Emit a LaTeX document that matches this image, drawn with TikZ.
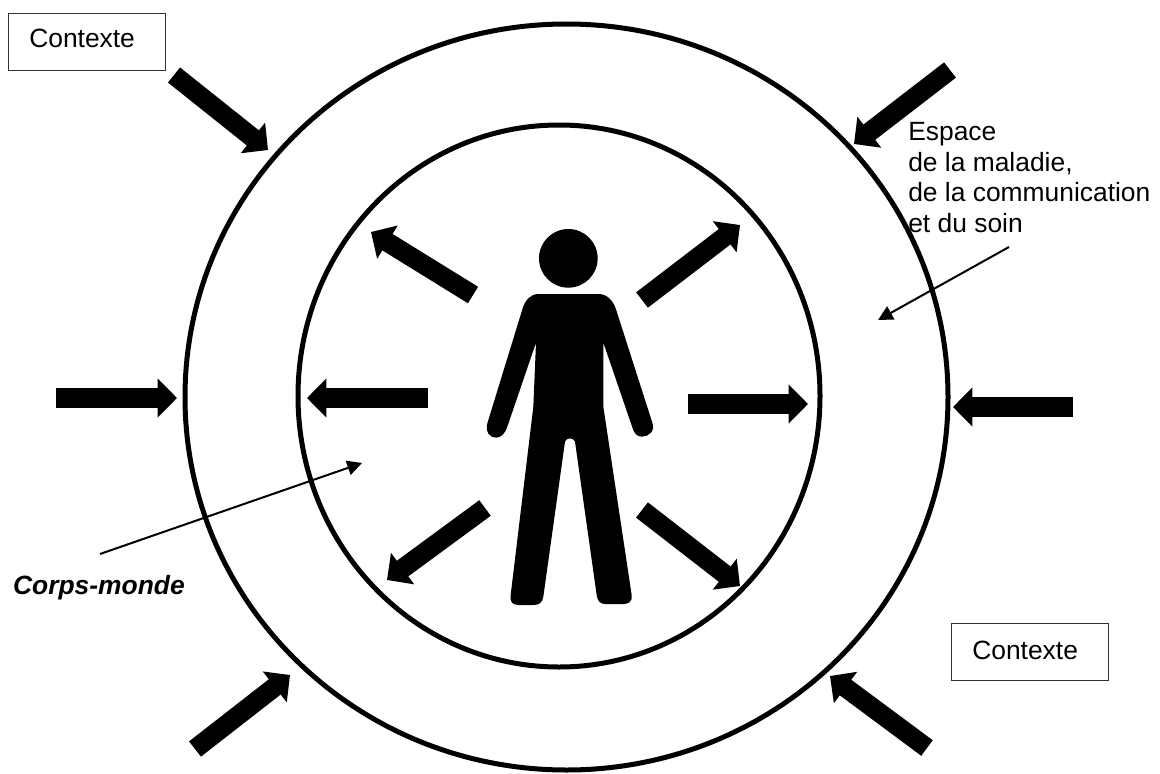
\documentclass[tikz,border=0pt]{standalone}
\usepackage{fontspec}
\setmainfont{Liberation Sans}
\usetikzlibrary{arrows.meta}
\tikzset{
  ring/.style={draw=black,line width=3.75pt,fill=none},
  fat/.style={draw=black,line width=14.5pt,-{Triangle[length=14.5pt,width=28.5pt]}},
  thin/.style={draw=black,line width=1.5pt,-{Triangle[length=11pt,width=11pt]}},
  lab/.style={font=\fontsize{19.8pt}{23pt}\selectfont,inner sep=0pt,align=left},
  boxed/.style={draw=black!80,line width=0.9pt,inner sep=0pt,anchor=north west,minimum width=117.75pt,minimum height=42.5pt}
}
\begin{document}
\begin{tikzpicture}[x=0.75pt,y=-0.75pt]
\useasboundingbox (0,0) rectangle (1160,774);
\draw[ring] (566.5,397) ellipse [x radius=381.5,y radius=373];
\draw[ring] (559,396) ellipse [x radius=261,y radius=271];
\node[boxed] (c1) at (8,13) {};
\node[lab,anchor=base west] (t1) at (29,48) {Contexte};
\node[boxed] (c2) at (951,623) {};
\node[lab,anchor=base west] (t2) at (972,659) {Contexte};
\node[lab,anchor=north west] (esp) at (908,122) {Espace\\de la maladie,\\de la communication\\et du soin};
\node[lab,anchor=base east,font=\fontsize{19.8pt}{23pt}\selectfont\bfseries\itshape] (cm) at (185,594) {Corps-monde};
\foreach \n/\x/\y in {a/174/75,b/268/150,c/950/70,d/854/144,e/56/398,f/177/398,g/1073/407,h/953/407,i/195/749,j/290/675,k/927/748,l/830/676,
 m/473/295,n/371/232,o/642/300,p/740/225,q/428/398,r/307/398,s/688/404,t/808/404,u/485/508,v/387/580,w/642/510,y/740/586,
 z/100/554,zz/362/463,aa/1009/247,bb/878/320}{\coordinate (\n) at (\x,\y);}
\draw[fat] (a)--(b); \draw[fat] (c)--(d); \draw[fat] (e)--(f); \draw[fat] (g)--(h); \draw[fat] (i)--(j); \draw[fat] (k)--(l);
\draw[fat] (m)--(n); \draw[fat] (o)--(p); \draw[fat] (q)--(r); \draw[fat] (s)--(t); \draw[fat] (u)--(v); \draw[fat] (w)--(y);
\draw[thin] (z)--(zz); \draw[thin] (aa)--(bb);
\begin{scope}[shift={(450,220)},x=0.25pt,y=-0.25pt]
\fill (355,115) circle [radius=22pt];
\fill (265,222) -- (445,222) .. controls (470,222) and (488,240) .. (497,265)
 -- (606,605) .. controls (618,635) and (595,650) .. (575,650) .. controls (560,650) and (552,638) .. (548,625)
 -- (460,368) -- (460,560) -- (545,1125) .. controls (548,1145) and (535,1152) .. (520,1152) -- (465,1152) .. controls (450,1152) and (442,1142) .. (440,1125)
 -- (375,665) .. controls (372,652) and (348,652) .. (345,665)
 -- (280,1130) .. controls (277,1148) and (268,1155) .. (250,1155) -- (205,1155) .. controls (188,1155) and (178,1145) .. (182,1125)
 -- (250,560) -- (258,368) -- (172,620) .. controls (165,642) and (152,653) .. (138,653) .. controls (118,653) and (105,635) .. (112,610)
 -- (218,265) .. controls (226,240) and (242,222) .. (265,222) -- cycle;
\end{scope}
\end{tikzpicture}
\end{document}
